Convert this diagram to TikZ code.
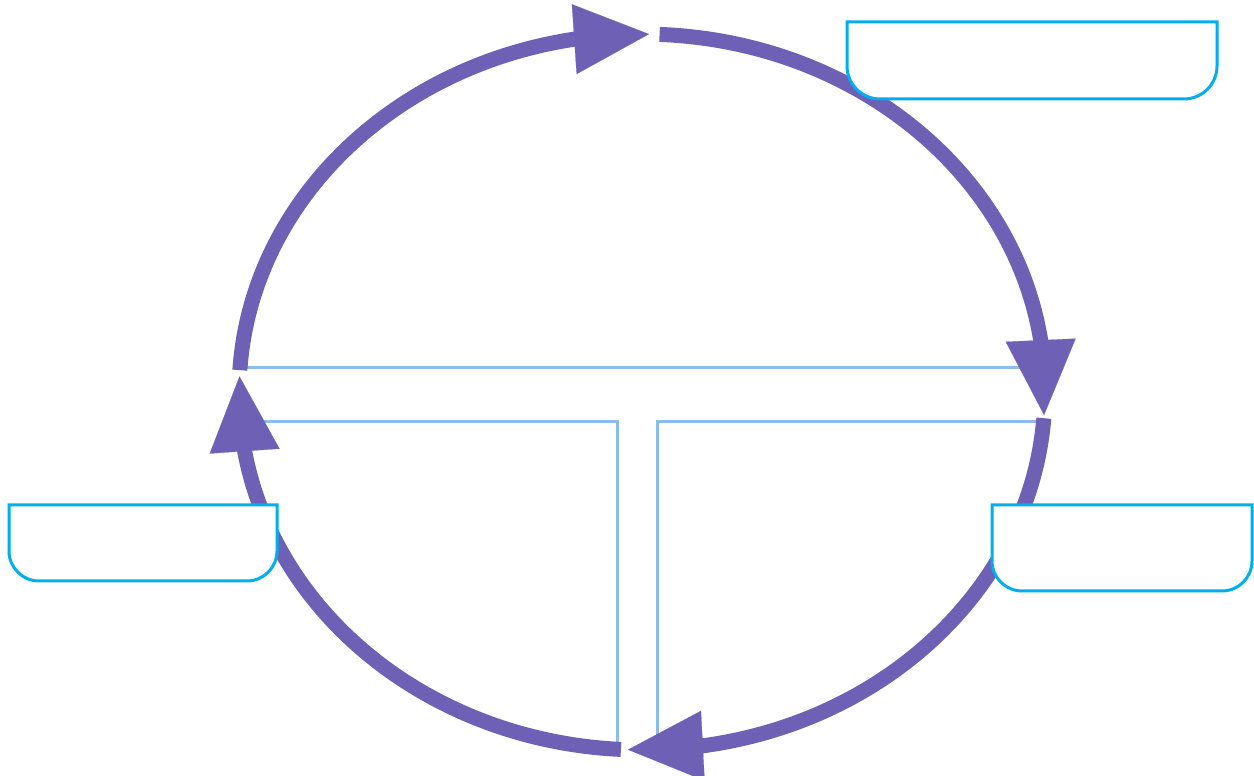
\documentclass[tikz,border=0pt]{standalone}
\usepackage{tikz}
\usetikzlibrary{arrows.meta}
\definecolor{cyclepurple}{RGB}{110,96,180}
\definecolor{tline}{RGB}{140,188,232}
\definecolor{boxcyan}{RGB}{0,174,239}

\begin{document}
\begin{tikzpicture}[x=0.02cm, y=0.02cm,
  cyclearc/.style={line width=0.3cm, cyclepurple},
  headtip/.style={line width=0.3cm, cyclepurple, -{Triangle[length=1.5cm, width=1.4cm, line width=0.1pt]}},
  divider/.style={line width=0.06cm, tline},
  labelbox/.style={line width=0.06cm, draw=boxcyan, fill=white}]
  \useasboundingbox (0,0) rectangle (1254,776);
  \coordinate (c) at (642,384);
  \coordinate (tiptop) at ([shift={(89:8.06cm and 7.16cm)}]c);
  \coordinate (basetop) at ([shift={(99.7:8.06cm and 7.16cm)}]c);
  \coordinate (tipright) at ([shift={(-3.7:8.06cm and 7.16cm)}]c);
  \coordinate (baseright) at ([shift={(8.3:8.06cm and 7.16cm)}]c);
  \coordinate (tipbottom) at ([shift={(-92:8.06cm and 7.16cm)}]c);
  \coordinate (basebottom) at ([shift={(-81.3:8.06cm and 7.16cm)}]c);
  \coordinate (tipleft) at ([shift={(-182.5:8.06cm and 7.16cm)}]c);
  \coordinate (baseleft) at ([shift={(-170.5:8.06cm and 7.16cm)}]c);

  \draw[divider] (240,408) -- (1044,408);
  \draw[divider] (241,354) -- (617,354) -- (617,27);
  \draw[divider] (1043,354) -- (657,354) -- (657,27);

  \draw[cyclearc] ([shift={(176.5:8.06cm and 7.16cm)}]c) arc[start angle=176.5, end angle=98.5, x radius=8.06cm, y radius=7.16cm];
  \draw[cyclearc] ([shift={(87.5:8.06cm and 7.16cm)}]c) arc[start angle=87.5, end angle=7, x radius=8.06cm, y radius=7.16cm];
  \draw[cyclearc] ([shift={(-4.2:8.06cm and 7.16cm)}]c) arc[start angle=-4.2, end angle=-82.5, x radius=8.06cm, y radius=7.16cm];
  \draw[cyclearc] ([shift={(-93:8.06cm and 7.16cm)}]c) arc[start angle=-93, end angle=-171.5, x radius=8.06cm, y radius=7.16cm];
  \draw[headtip] (basetop) -- (tiptop);
  \draw[headtip] (baseright) -- (tipright);
  \draw[headtip] (basebottom) -- (tipbottom);
  \draw[headtip] (baseleft) -- (tipleft);

  \draw[labelbox] (847,754) -- (1217,754) -- (1217,710) arc[start angle=0, end angle=-90, radius=0.66cm] -- (880,677) arc[start angle=270, end angle=180, radius=0.66cm] -- cycle;
  \draw[labelbox] (9,271) -- (277,271) -- (277,225) arc[start angle=0, end angle=-90, radius=0.6cm] -- (39,195) arc[start angle=270, end angle=180, radius=0.6cm] -- cycle;
  \draw[labelbox] (992,271) -- (1252,271) -- (1252,215) arc[start angle=0, end angle=-90, radius=0.6cm] -- (1022,185) arc[start angle=270, end angle=180, radius=0.6cm] -- cycle;
\end{tikzpicture}
\end{document}
